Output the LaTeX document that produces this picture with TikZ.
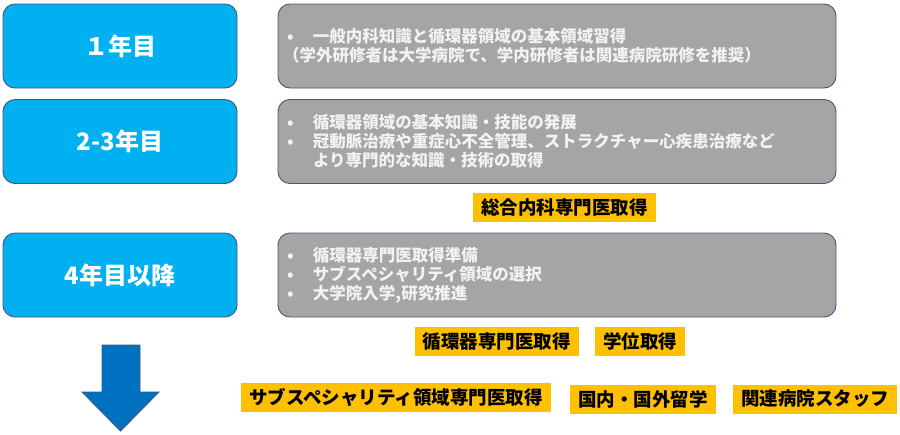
\documentclass[tikz,border=0pt]{standalone}
\usepackage{fontspec}
\setmainfont{Noto Sans CJK JP}
\usepackage{tikz}

\definecolor{yearblue}{HTML}{00B0F0}
\definecolor{taskgray}{HTML}{A5A5A5}
\definecolor{edgeblue}{HTML}{41587A}
\definecolor{goalyellow}{HTML}{FFC000}
\definecolor{arrowblue}{HTML}{0070C0}
\newcommand{\bitem}{\makebox[30pt][l]{\hspace{4pt}•}}

\begin{document}
\begin{tikzpicture}[x=1pt, y=-1pt,
	yearnode/.style={rectangle, rounded corners=12pt, draw=edgeblue, fill=yearblue, line width=0.9pt, minimum width=234pt, minimum height=84pt, text=white, font=\fontsize{24}{28}\selectfont\bfseries},
	tasknode/.style={rectangle, rounded corners=12pt, draw=edgeblue, fill=taskgray, line width=0.9pt, minimum width=558pt, minimum height=84pt, inner xsep=5pt, text width=548pt, align=left, text=white!95!black, font=\fontsize{16.5}{19}\selectfont\bfseries},
	goalnode/.style={rectangle, fill=goalyellow, minimum height=29pt, inner xsep=8pt, text=black, font=\fontsize{18.5}{20}\selectfont\bfseries}]
		\useasboundingbox (0,0) rectangle (900,434);
		
		\node[yearnode]	(y1) at (120,46)	{１年目};
		\node[yearnode]	(y23) at (120,141.5)	{2-3年目};
		\node[yearnode]	(y4) at (120,275)	{4年目以降};
		
		\node[tasknode]	(t1) at (557,46)	{\bitem 一般内科知識と循環器領域の基本領域習得\\（学外研修者は大学病院で、学内研修者は関連病院研修を推奨）};
		\node[tasknode]	(t23) at (557,141.5)	{\bitem 循環器領域の基本知識・技能の発展\\\bitem 冠動脈治療や重症心不全管理、ストラクチャー心疾患治療など\\\hspace*{30pt}より専門的な知識・技術の取得};
		\node[tasknode]	(t4) at (557,275)	{\bitem 循環器専門医取得準備\\\bitem サブスペシャリティ領域の選択\\\bitem 大学院入学,研究推進};
		
		\node[goalnode]	(g1) at (564.5,207)	{総合内科専門医取得};
		\node[goalnode]	(g2) at (496.5,341.5)	{循環器専門医取得};
		\node[goalnode]	(g3) at (640,341.5)	{学位取得};
		\node[goalnode]	(g4) at (396,397.5)	{サブスペシャリティ領域専門医取得};
		\node[goalnode]	(g5) at (643,399)	{国内・国外留学};
		\node[goalnode]	(g6) at (815,399)	{関連病院スタッフ};
		
		\draw[draw=edgeblue, fill=arrowblue, line width=0.9pt] (102,345) -- (140,345) -- (140,392) -- (159,392) -- (120.5,431) -- (82,392) -- (102,392) -- cycle;
		
		\end{tikzpicture}
\end{document}
